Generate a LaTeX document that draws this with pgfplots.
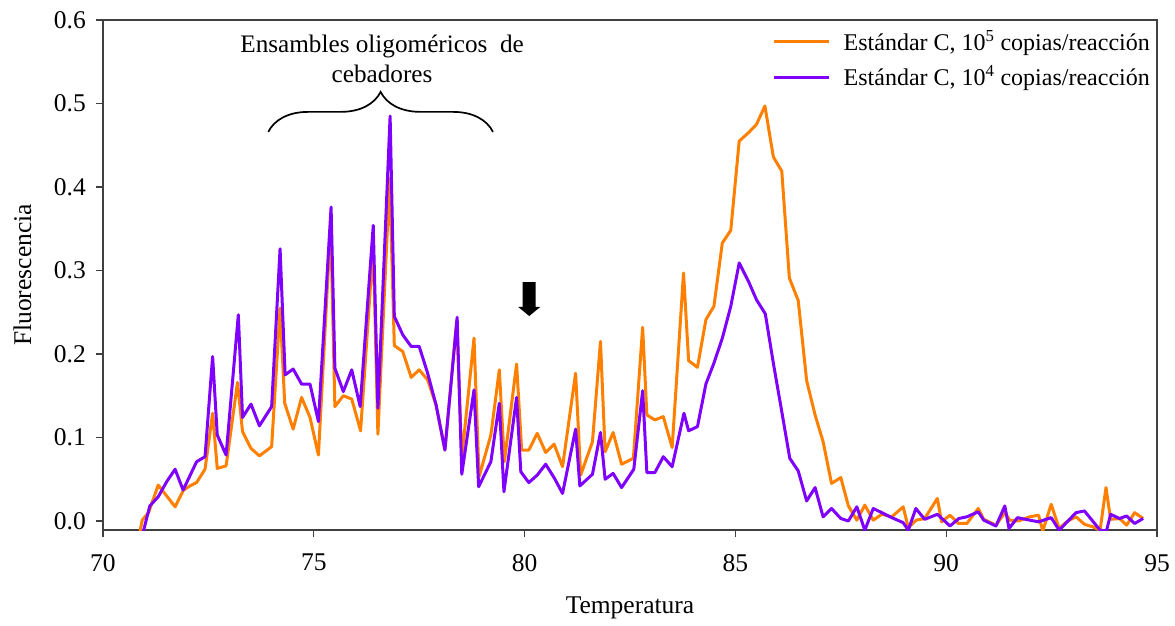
\documentclass[border=0pt]{standalone}
\usepackage{fontspec}
\setmainfont{Liberation Serif}
\usepackage{pgfplots}
\pgfplotsset{compat=1.18}
\usetikzlibrary{decorations.pathreplacing}
\definecolor{corange}{HTML}{FF8000}
\definecolor{cpurple}{HTML}{8000FF}
\definecolor{axgray}{HTML}{404040}

\pgfplotstableread{
x y
70.88 -0.012
70.93 0.001
71.08 0.010
71.31 0.043
71.51 0.030
71.71 0.017
71.91 0.037
72.06 0.042
72.22 0.046
72.42 0.062
72.60 0.129
72.71 0.063
72.92 0.066
73.19 0.166
73.31 0.107
73.51 0.087
73.71 0.078
74.00 0.089
74.20 0.255
74.31 0.141
74.51 0.110
74.71 0.148
74.91 0.124
75.11 0.079
75.40 0.355
75.50 0.137
75.70 0.150
75.90 0.146
76.11 0.108
76.41 0.330
76.52 0.104
76.80 0.410
76.91 0.210
77.11 0.203
77.31 0.172
77.50 0.181
77.70 0.169
77.90 0.139
78.11 0.085
78.39 0.240
78.51 0.075
78.80 0.219
78.92 0.053
79.20 0.103
79.40 0.181
79.52 0.071
79.81 0.188
79.93 0.085
80.10 0.085
80.30 0.105
80.50 0.082
80.70 0.092
80.90 0.065
81.21 0.177
81.33 0.055
81.61 0.095
81.80 0.215
81.91 0.083
82.10 0.106
82.30 0.068
82.58 0.075
82.80 0.232
82.90 0.127
83.09 0.121
83.29 0.125
83.50 0.088
83.77 0.297
83.89 0.192
84.10 0.184
84.30 0.241
84.49 0.257
84.69 0.333
84.89 0.348
85.09 0.455
85.31 0.465
85.50 0.475
85.70 0.497
85.90 0.436
86.10 0.419
86.28 0.291
86.49 0.264
86.69 0.168
86.89 0.127
87.08 0.095
87.28 0.045
87.50 0.052
87.68 0.018
87.88 0.001
88.07 0.019
88.27 0.001
88.47 0.008
88.71 0.005
88.98 0.017
89.10 -0.008
89.29 0.001
89.49 0.003
89.79 0.027
89.89 -0.001
90.09 0.007
90.29 -0.003
90.49 -0.003
90.76 0.015
90.89 0.002
91.18 -0.005
91.39 0.010
91.51 0.001
91.71 0.000
91.98 0.005
92.19 0.007
92.29 -0.012
92.49 0.020
92.68 -0.009
92.88 0.000
93.08 0.005
93.28 -0.004
93.48 -0.007
93.65 -0.011
93.79 0.040
93.90 0.002
94.11 0.003
94.28 -0.005
94.47 0.010
94.67 0.003
}\orangedata

\pgfplotstableread{
x y
70.96 -0.012
71.11 0.018
71.31 0.029
71.51 0.047
71.71 0.062
71.90 0.037
72.06 0.054
72.22 0.071
72.42 0.077
72.60 0.197
72.71 0.103
72.92 0.079
73.21 0.247
73.31 0.124
73.51 0.140
73.71 0.114
74.00 0.137
74.20 0.326
74.32 0.175
74.51 0.182
74.71 0.164
74.91 0.164
75.11 0.119
75.41 0.376
75.50 0.183
75.70 0.155
75.90 0.181
76.10 0.137
76.41 0.354
76.52 0.135
76.81 0.485
76.91 0.245
77.11 0.223
77.31 0.209
77.50 0.209
77.70 0.177
77.90 0.139
78.11 0.085
78.40 0.244
78.51 0.056
78.80 0.157
78.91 0.041
79.20 0.071
79.40 0.141
79.51 0.035
79.81 0.148
79.91 0.059
80.10 0.046
80.30 0.055
80.50 0.068
80.71 0.051
80.90 0.033
81.21 0.110
81.31 0.042
81.61 0.056
81.80 0.106
81.91 0.050
82.10 0.057
82.30 0.040
82.59 0.062
82.80 0.156
82.90 0.058
83.09 0.058
83.29 0.077
83.50 0.065
83.78 0.129
83.89 0.108
84.10 0.113
84.30 0.164
84.49 0.189
84.69 0.219
84.89 0.257
85.09 0.309
85.31 0.287
85.50 0.265
85.71 0.248
85.90 0.189
86.10 0.131
86.29 0.075
86.49 0.060
86.69 0.024
86.89 0.040
87.08 0.005
87.28 0.015
87.50 0.003
87.68 0.000
87.88 0.017
88.07 -0.011
88.27 0.015
88.47 0.010
88.71 0.004
88.98 -0.002
89.10 -0.011
89.28 0.015
89.49 0.002
89.79 0.008
90.09 -0.006
90.30 0.003
90.49 0.005
90.76 0.011
90.89 0.001
91.18 -0.006
91.39 0.018
91.49 -0.009
91.69 0.004
91.98 0.001
92.19 -0.001
92.49 0.004
92.68 -0.011
93.08 0.010
93.28 0.012
93.65 -0.011
93.80 -0.012
93.90 0.008
94.11 0.003
94.28 0.006
94.47 -0.003
94.67 0.003
}\purpledata

\begin{document}
\fontsize{24bp}{29bp}\selectfont
\begin{tikzpicture}
\begin{axis}[
  scale only axis, width=1054bp, height=510bp,
  xmin=70, xmax=95, ymin=-0.0108, ymax=0.6,
  xtick={70,75,80,85,90,95},
  ytick={0,0.1,0.2,0.3,0.4,0.5,0.6},
  yticklabel style={xshift=-2bp, /pgf/number format/fixed, /pgf/number format/fixed zerofill, /pgf/number format/precision=1},
  /pgf/number format/assume math mode=true,
  ticklabel style={font=\fontsize{25.5bp}{30bp}\selectfont},
  xticklabel style={yshift=-9bp},
  tick align=outside, major tick length=7bp,
  xtick pos=bottom, ytick pos=left,
  axis line style={line width=1.5bp, axgray},
  every tick/.style={line width=1.3bp, axgray},
  xlabel={Temperatura}, ylabel={Fluorescencia},
  label style={font=\fontsize{25.5bp}{30bp}\selectfont},
  xlabel style={at={(axis description cs:0.5,-0.152)}, anchor=center},
  ylabel style={at={(axis description cs:-0.0765,0.5)}, anchor=center},
  legend style={at={(rel axis cs:1,1)}, anchor=north east, draw=none, fill=none,
    xshift=-2bp, yshift=-6bp, row sep=8bp,
    font=\fontsize{24bp}{29bp}\selectfont},
  legend cell align=left,
  legend image code/.code={\draw[#1, line width=3bp] (0bp,0bp) -- (55bp,0bp); \path (66bp,0bp);},
]
\addplot[corange, line width=3bp, line join=round] table[x=x,y=y] {\orangedata};
\addlegendentry{Estándar C, 10\textsuperscript{5} copias/reacción}
\addplot[cpurple, line width=3bp, line join=round] table[x=x,y=y] {\purpledata};
\addlegendentry{Estándar C, 10\textsuperscript{4} copias/reacción}

\draw[line width=1.7bp, decorate, decoration={brace, amplitude=40bp}]
  (axis cs:73.92,0.466) -- (axis cs:79.25,0.466);
\node[align=center, font=\fontsize{25.2bp}{30bp}\selectfont] at (axis cs:76.62,0.553)
  {Ensambles oligoméricos\ \ de\\cebadores};
\fill ([xshift=-6.5bp]axis cs:80.11,0.2862) -- ([xshift=6.5bp]axis cs:80.11,0.2862)
  -- ([xshift=6.5bp]axis cs:80.11,0.2563) -- ([xshift=11bp]axis cs:80.11,0.2563)
  -- (axis cs:80.11,0.2455) -- ([xshift=-11bp]axis cs:80.11,0.2563)
  -- ([xshift=-6.5bp]axis cs:80.11,0.2563) -- cycle;
\end{axis}
\pgfresetboundingbox
\path[use as bounding box] ([xshift=-103bp,yshift=-95bp]current axis.south west)
  rectangle ([xshift=18bp,yshift=20bp]current axis.north east);
\end{tikzpicture}
\end{document}
